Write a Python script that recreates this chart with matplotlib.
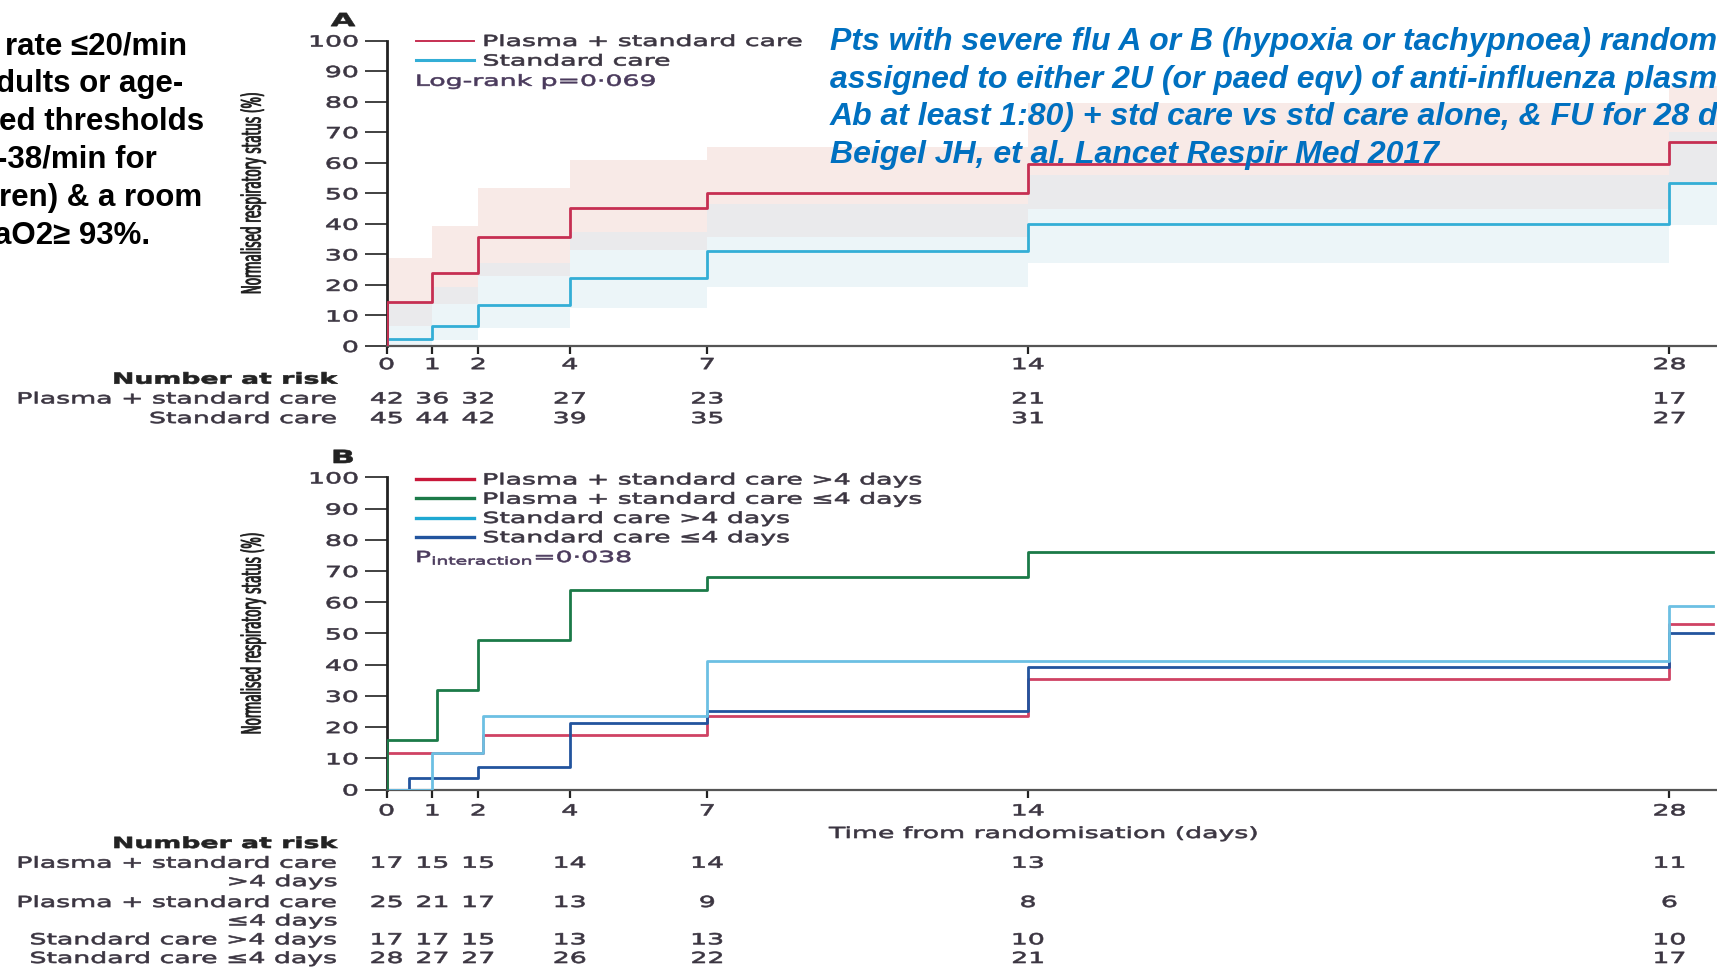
import numpy as np
import matplotlib
matplotlib.use("Agg")
import matplotlib.pyplot as plt
from matplotlib.lines import Line2D
from matplotlib.patheffects import AbstractPathEffect
from matplotlib.transforms import Affine2D, blended_transform_factory

# ---- data ----
# panel A: step levels start at these days
days_a = [0, 1, 2, 4, 7, 14, 28]
plasma_a = [14.3, 23.8, 35.7, 45.2, 50.0, 59.5, 66.7]
plasma_a_lo = [6.4, 13.8, 23.0, 31.5, 35.8, 44.7, 52.7]
plasma_a_hi = [28.8, 39.4, 51.8, 60.9, 65.2, 79.5, 85.0]
std_a = [2.2, 6.7, 13.3, 22.2, 31.1, 40.0, 53.3]
std_a_lo = [0.0, 2.0, 6.0, 12.4, 19.4, 27.1, 39.6]
std_a_hi = [14.0, 19.2, 27.2, 37.2, 46.5, 56.0, 70.0]

# panel B: (step days, levels) per subgroup
plasma_gt4_days = [0, 2.1, 7, 14, 28]
plasma_gt4 = [11.8, 17.6, 23.5, 35.3, 52.9]
plasma_le4_days = [0, 1.1, 2, 4, 7, 14]
plasma_le4 = [16.0, 32.0, 48.0, 64.0, 68.0, 76.0]
std_gt4_days = [1, 2.1, 7, 28]
std_gt4 = [11.8, 23.5, 41.2, 58.8]
std_le4_days = [0.5, 2, 4, 7, 14, 28]
std_le4 = [3.6, 7.1, 21.4, 25.0, 39.3, 50.0]

tick_days = [0, 1, 2, 4, 7, 14, 28]
y_ticks = list(range(0, 101, 10))

risk_a_labels = ["Plasma + standard care", "Standard care"]
risk_a = [[42, 36, 32, 27, 23, 21, 17],
          [45, 44, 42, 39, 35, 31, 27]]
risk_b_labels = ["Plasma + standard care\n>4 days", "Plasma + standard care\n\u22644 days",
                 "Standard care >4 days", "Standard care \u22644 days"]
risk_b = [[17, 15, 15, 14, 14, 13, 11],
          [25, 21, 17, 13, 9, 8, 6],
          [17, 17, 15, 13, 13, 10, 10],
          [28, 27, 27, 26, 22, 21, 17]]

left_lines = ["rate \u226420/min", "dults or age-", "ed thresholds",
              "-38/min for", "ren) & a room", "aO2\u2265 93%."]
blue_lines = ["Pts with severe flu A or B (hypoxia or tachypnoea) randomly",
              "assigned to either 2U (or paed eqv) of anti-influenza plasma",
              "Ab at least 1:80) + std care vs std care alone, & FU for 28 days",
              "Beigel JH, et al. Lancet Respir Med 2017"]

W, H = 1717, 967
DY = 2.5  # va="center" sits a little high against the pasted bitmap
END_A, END_B = 29.5, 28.95
RED, CYAN, NAVY, GREEN = "#c62f52", "#33aed6", "#22549e", "#1b7a48"
INK = "#3b3541"


def fx(px):
    return px / W


def fy(py):
    return 1 - py / H


class Stretch(AbstractPathEffect):
    """Widen (and slightly embolden) glyphs, the pasted chart was stretched sideways."""

    def __init__(self, sx=1.75, sy=1.0, anchor="left", bold=0.45):
        super().__init__()
        self.sx, self.sy, self.anchor, self.bold = sx, sy, anchor, bold

    def draw_path(self, renderer, gc, tpath, affine, rgbFace=None):
        ext = tpath.get_extents()
        x0 = {"left": ext.x0, "right": ext.x1, "center": (ext.x0 + ext.x1) / 2}[self.anchor]
        y0 = (ext.y0 + ext.y1) / 2
        warp = Affine2D().translate(-x0, -y0).scale(self.sx, self.sy).translate(x0, y0)
        gc0 = renderer.new_gc()
        gc0.copy_properties(gc)
        gc0.set_linewidth(self.bold)
        gc0.set_joinstyle("round")
        gc0.set_foreground(rgbFace)
        renderer.draw_path(gc0, tpath, warp + affine, rgbFace)
        gc0.restore()


def steps(days, levels, end):
    xs = [0] + list(days) + [end]
    ys = [0] + list(levels) + [levels[-1]]
    return xs, ys


def style_axes(ax, xpad):
    ax.set_xlim(0, (W - 386.5) / 45.82)
    ax.set_ylim(0, 100)
    for side in ("top", "right"):
        ax.spines[side].set_visible(False)
    ax.spines["left"].set_color("#222222")
    ax.spines["left"].set_linewidth(2.0)
    ax.spines["bottom"].set_color("#555555")
    ax.spines["bottom"].set_linewidth(1.6)
    ax.set_xticks(tick_days, [str(d) for d in tick_days])
    ax.set_yticks(y_ticks, [str(v) for v in y_ticks])
    ax.tick_params(axis="y", length=16, width=1.3, pad=4.5, color="#333333",
                   labelsize=11, labelcolor=INK)
    ax.tick_params(axis="x", length=6, width=1.6, pad=xpad, color="#222222",
                   labelsize=11, labelcolor=INK)
    for lab in ax.get_xticklabels():
        lab.set_path_effects([Stretch(anchor="center")])
    for lab in ax.get_yticklabels():
        lab.set_path_effects([Stretch(anchor="right")])
    ax.set_ylabel("Normalised respiratory status (%)", fontsize=8.6, color="#1e1e1e")
    ax.yaxis.set_label_coords((253 - 386.5) / (W - 386.5), 0.5)
    ax.yaxis.label.set_va("center")
    ax.yaxis.label.set_path_effects([Stretch(sx=1.0, sy=2.2, anchor="center", bold=0.6)])
    ax.patch.set_visible(False)


def chart_text(x, y, s, ha="left", **kw):
    kw.setdefault("fontsize", 11)
    kw.setdefault("color", INK)
    return fig.text(fx(x), fy(y + DY), s, ha=ha, va="center",
                    path_effects=[Stretch(anchor=ha)], **kw)


plt.rcParams["font.family"] = ["DejaVu Sans"]
fig = plt.figure(figsize=(W / 100, H / 100), dpi=100)

# ---------- panel A ----------
ax_a = fig.add_axes([fx(386.5), fy(346), 1 - fx(386.5), (346 - 40.5) / H])
xs_band = list(days_a) + [END_A]
p_lo = np.array(plasma_a_lo + [plasma_a_lo[-1]])
p_hi = np.array(plasma_a_hi + [plasma_a_hi[-1]])
s_lo = np.array(std_a_lo + [std_a_lo[-1]])
s_hi = np.array(std_a_hi + [std_a_hi[-1]])
ax_a.fill_between(xs_band, p_lo, p_hi, step="post", color="#f8eae7", lw=0, zorder=1)
ax_a.fill_between(xs_band, s_lo, s_hi, step="post", color="#ecf5f8", lw=0, zorder=1)
ax_a.fill_between(xs_band, np.maximum(p_lo, s_lo), np.minimum(p_hi, s_hi),
                  step="post", color="#eaeaec", lw=0, zorder=1)
ax_a.step(*steps(days_a, std_a, END_A), where="post", color=CYAN, lw=2.0, zorder=3)
ax_a.step(*steps(days_a, plasma_a, END_A), where="post", color=RED, lw=2.0, zorder=3)
style_axes(ax_a, 2.0)

leg_a = ax_a.legend([Line2D([], [], color=RED, lw=1.4), Line2D([], [], color=CYAN, lw=2.2)],
                    ["Plasma + standard care", "Standard care"],
                    loc="upper left", bbox_to_anchor=(fx(416), fy(31.5 + DY)),
                    bbox_transform=fig.transFigure, frameon=False, fontsize=11,
                    handlelength=3.8, handletextpad=0.6, labelspacing=0.3,
                    borderpad=0, borderaxespad=0)
for t in leg_a.get_texts():
    t.set_color(INK)
    t.set_path_effects([Stretch()])
chart_text(416, 78.8, "Log-rank p=0\u00b7069", color="#4a3a5c")
chart_text(343, 18.6, "A", ha="center", fontsize=13, weight="bold", color="#222222")

chart_text(337, 376.7, "Number at risk", ha="right", weight="bold", color="#222222")
to_a = blended_transform_factory(ax_a.transData, fig.transFigure)
for row, (lab, counts) in enumerate(zip(risk_a_labels, risk_a)):
    y = 396.4 + row * 19.7
    chart_text(337, y, lab, ha="right")
    for d, n in zip(tick_days, counts):
        ax_a.text(d, fy(y + DY), str(n), transform=to_a, ha="center", va="center",
                  fontsize=11, color=INK, path_effects=[Stretch(anchor="center")])

# ---------- panel B ----------
ax_b = fig.add_axes([fx(386.5), fy(789.5), 1 - fx(386.5), (789.5 - 477.4) / H])
ax_b.step(*steps(plasma_gt4_days, plasma_gt4, END_B), where="post", color="#cf4263", lw=2.0, zorder=3)
ax_b.step(*steps(std_le4_days, std_le4, END_B), where="post", color=NAVY, lw=2.0, zorder=3)
ax_b.step(*steps(std_gt4_days, std_gt4, END_B), where="post", color="#6cc0e3", lw=2.0, zorder=3)
ax_b.step(*steps(plasma_le4_days, plasma_le4, END_B), where="post", color=GREEN, lw=2.0, zorder=3)
style_axes(ax_b, 4.0)
ax_b.set_xlabel("Time from randomisation (days)", fontsize=11, color=INK)
ax_b.xaxis.set_label_coords((1043.5 - 386.5) / (W - 386.5),
                            -(831 + DY - 789.5) / (789.5 - 477.4))
ax_b.xaxis.label.set_va("center")
ax_b.xaxis.label.set_path_effects([Stretch(anchor="center")])

leg_b = ax_b.legend([Line2D([], [], color=c, lw=2.4) for c in ("#c8183a", GREEN, "#1fa8d2", NAVY)],
                    ["Plasma + standard care >4 days", "Plasma + standard care \u22644 days",
                     "Standard care >4 days", "Standard care \u22644 days"],
                    loc="upper left", bbox_to_anchor=(fx(416), fy(469.9 + DY)),
                    bbox_transform=fig.transFigure, frameon=False, fontsize=11,
                    handlelength=3.8, handletextpad=0.6, labelspacing=0.28,
                    borderpad=0, borderaxespad=0)
for t in leg_b.get_texts():
    t.set_color(INK)
    t.set_path_effects([Stretch()])
chart_text(416, 555, "P$_{\\mathrm{interaction}}$=0\u00b7038", color="#4a3a5c")
chart_text(343, 455.5, "B", ha="center", fontsize=13, weight="bold", color="#222222")

chart_text(337, 841, "Number at risk", ha="right", weight="bold", color="#222222")
to_b = blended_transform_factory(ax_b.transData, fig.transFigure)
for lab, counts, y in zip(risk_b_labels, risk_b, [860.7, 900, 937.3, 956]):
    for i, part in enumerate(lab.split("\n")):
        chart_text(337, y + i * 18.4, part, ha="right")
    for d, n in zip(tick_days, counts):
        ax_b.text(d, fy(y + DY), str(n), transform=to_b, ha="center", va="center",
                  fontsize=11, color=INK, path_effects=[Stretch(anchor="center")])

# ---------- slide text around the chart ----------
for i, (line, dx) in enumerate(zip(left_lines, [5, -4, -1, -3, -1, -6])):
    fig.text(fx(dx), fy(46.3 + i * 37.9), line, ha="left", va="center",
             fontsize=22.5, weight="bold", color="black",
             family=["Liberation Sans", "DejaVu Sans"])
for i, line in enumerate(blue_lines):
    fig.text(fx(830), fy(42.2 + i * 37.6), line, ha="left", va="center",
             fontsize=23, weight="bold", style="italic", color="#0070c0",
             family=["Liberation Sans", "DejaVu Sans"], zorder=10)

fig.savefig("out.png", dpi=100)
